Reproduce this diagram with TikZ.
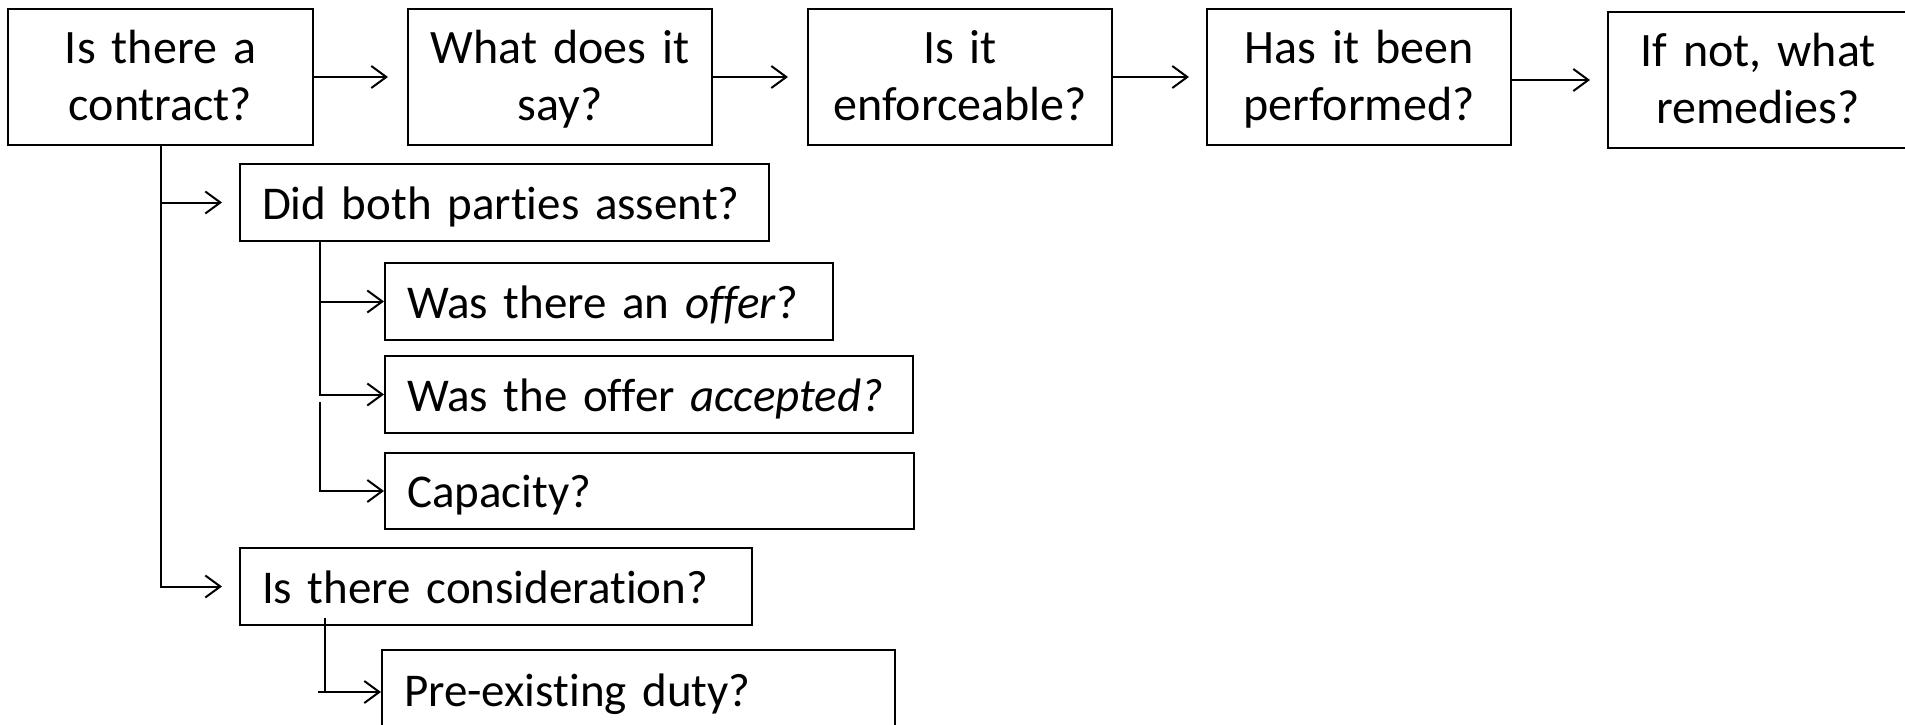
\documentclass[tikz,border=0pt]{standalone}
\usepackage{fontspec}
\setmainfont{Carlito}[Ligatures=CommonOff]
\usetikzlibrary{arrows.meta}
\newcommand{\topfont}{\fontsize{48}{57}\selectfont\spaceskip=0.55\fontdimen2\font\relax}
\begin{document}
\begin{tikzpicture}[x=1pt,y=-1pt,
  topbox/.style={draw,line width=2pt,inner sep=0pt,anchor=north west,align=center,
    text height=33pt,text depth=60pt,font=\topfont},
  subbox/.style={draw,line width=2pt,inner xsep=22pt,inner ysep=0pt,anchor=north west,align=left,
    text height=40pt,text depth=7pt,font=\fontsize{47}{56}\selectfont},
  arr/.style={line width=2pt,-{Straight Barb[length=15pt,width=22pt,line width=2pt]}}]
\path[use as bounding box] (0,0) rectangle (1905,725);
\clip (0,0) rectangle (1905,725);
% top row
\node[topbox,text width=305pt,minimum height=136pt] (b1) at (7,8) {Is there a\\contract?};
\node[topbox,text width=304pt,minimum height=136pt] (b2) at (407,8) {What does it\\say?};
\node[topbox,text width=304pt,minimum height=136pt] (b3) at (807,8) {Is it\\enforceable?};
\node[topbox,text width=304pt,minimum height=136pt] (b4) at (1206,8) {Has it been\\performed?};
\node[topbox,text width=300pt,minimum height=136pt] (b5) at (1607,11) {If not, what\\remedies?};
% sub boxes
\node[subbox,text width=485pt,minimum height=77pt] (assent) at (239,163) {Did both parties assent?};
\node[subbox,text width=404pt,minimum height=77pt] (offer) at (384,262) {Was there an \textit{offer}?};
\node[subbox,text width=484pt,minimum height=77pt] (accepted) at (384,355) {Was the offer \textit{accepted?}};
\node[subbox,text width=485pt,minimum height=76pt] (capacity) at (384,452) {Capacity?};
\node[subbox,text width=468pt,minimum height=77pt] (cons) at (239,547) {Is there consideration?};
\node[subbox,text width=469pt,minimum height=80pt] (pre) at (381,649) {Pre-existing duty?};
% top arrows
\draw[arr,shorten >=19pt] (b1.east) -- (b2.west);
\draw[arr,shorten >=19pt] (b2.east) -- (b3.west);
\draw[arr,shorten >=17pt] (b3.east) -- (b4.west);
\draw[arr,shorten >=17pt] (b4.east |- b5.west) -- (b5.west);
% main trunk
\draw[arr,shorten >=17pt] (b1.south) |- (cons.west);
\draw[arr,shorten >=17pt] (b1.south |- assent.west) -- (assent.west);
% assent branch
\coordinate (s1) at (320,240);
\draw[arr] (s1) |- (accepted.west);
\draw[arr] (s1 |- offer.west) -- (offer.west);
\coordinate (s2) at (320,402);
\draw[arr] (s2) |- (capacity.west);
% consideration branch
\coordinate (s3) at (325,618);
\coordinate (s4) at (318,692);
\draw[line width=2pt] (s3) -- (s3 |- s4);
\draw[arr] (s4) -- (s4 -| pre.west);
\end{tikzpicture}
\end{document}
